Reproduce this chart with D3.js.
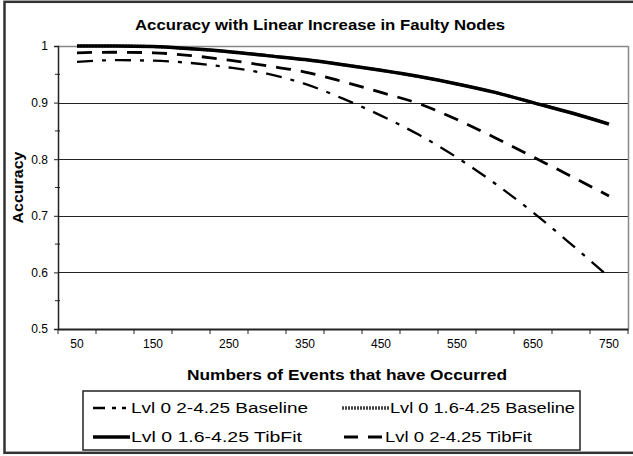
<!DOCTYPE html>
<html><head><meta charset="utf-8">
<script src="https://cdn.jsdelivr.net/npm/d3@7"></script>
<style>body{margin:0;background:#fff}svg{display:block}text{font-family:"Liberation Sans",Arial,sans-serif;fill:#000}</style>
</head><body><svg id="c" width="633" height="456"></svg>
<script>
const categories = [50,100,150,200,250,300,350,400,450,500,550,600,650,700,750];
const baseline2 = [0.972,0.975,0.974,0.970,0.962,0.951,0.933,0.907,0.877,0.843,0.803,0.757,0.706,0.650,0.592];
const baseline16 = [1.000,1.000,0.999,0.995,0.990,0.983,0.976,0.967,0.957,0.946,0.933,0.918,0.900,0.882,0.862];
const tibfit16 = [1.000,1.000,0.999,0.995,0.990,0.983,0.976,0.967,0.957,0.946,0.933,0.918,0.900,0.882,0.862];
const tibfit2 = [0.988,0.989,0.988,0.983,0.975,0.965,0.954,0.937,0.918,0.898,0.870,0.838,0.804,0.770,0.735];
const yTicks = [0.5,0.6,0.7,0.8,0.9,1];
const yMinor = [0.55,0.65,0.75,0.85,0.95];
const seriesNames = ["Lvl 0 2-4.25 Baseline","Lvl 0 1.6-4.25 Baseline","Lvl 0 1.6-4.25 TibFit","Lvl 0 2-4.25 TibFit"];

const svg = d3.select("#c");
const L=58,R=628,T=46,B=329;
const x = d3.scaleBand().domain(categories).range([L,R]);
const y = d3.scaleLinear().domain([0.5,1]).range([B,T]);
const snap = v => Math.round(v)+0.5;

// outer frame
svg.append("rect").attr("x",4.5).attr("y",1.8).attr("width",640).attr("height",451).attr("fill","none").attr("stroke","#333").attr("stroke-width",2.5);

// title
svg.append("text").attr("x",320).attr("y",30).attr("text-anchor","middle").attr("font-size",15).attr("font-weight","bold")
  .attr("textLength",370).attr("lengthAdjust","spacingAndGlyphs").text("Accuracy with Linear Increase in Faulty Nodes");

// gridlines
svg.append("g").selectAll("line").data(yTicks.filter(d=>d>0.5&&d<1)).join("line")
  .attr("x1",L).attr("x2",R).attr("y1",d=>snap(y(d))).attr("y2",d=>snap(y(d))).attr("stroke","#222").attr("stroke-width",1);
// plot border top/right
svg.append("line").attr("x1",L).attr("x2",R).attr("y1",snap(y(1))).attr("y2",snap(y(1))).attr("stroke","#888").attr("stroke-width",1.5);
svg.append("line").attr("x1",R+0.5).attr("x2",R+0.5).attr("y1",T).attr("y2",B).attr("stroke","#888").attr("stroke-width",1.5);

// y axis
const ya = svg.append("g").attr("transform",`translate(${L},0)`)
  .call(d3.axisLeft(y).tickValues(yTicks).tickSize(4).tickPadding(6).tickFormat(d=>d===1?"1":d3.format(".1f")(d)));
ya.select(".domain").attr("stroke","#222").attr("stroke-width",1.5);
ya.selectAll(".tick line").attr("stroke","#222");
ya.selectAll(".tick text").attr("font-size",12).attr("font-family","Liberation Sans, Arial, sans-serif").attr("fill","#000");
svg.append("g").selectAll("line").data(yMinor).join("line")
  .attr("x1",L-3).attr("x2",L+2).attr("y1",d=>y(d)).attr("y2",d=>y(d)).attr("stroke","#222");

// x axis
const xa = svg.append("g").attr("transform",`translate(0,${B})`)
  .call(d3.axisBottom(x).tickSize(0).tickPadding(10).tickFormat((d,i)=>i%2===0?d:""));
xa.select(".domain").attr("stroke","#222").attr("stroke-width",1.8);
xa.selectAll(".tick text").attr("font-size",12).attr("font-family","Liberation Sans, Arial, sans-serif").attr("fill","#000");
svg.append("g").selectAll("line").data(categories.map(c=>x(c)).concat([R])).join("line")
  .attr("x1",d=>d).attr("x2",d=>d).attr("y1",B).attr("y2",B+5).attr("stroke","#222");

// axis titles
svg.append("text").attr("transform",`translate(23,${(T+B)/2}) rotate(-90)`).attr("text-anchor","middle")
  .attr("font-size",14).attr("font-weight","bold").attr("textLength",72).attr("lengthAdjust","spacingAndGlyphs").text("Accuracy");
svg.append("text").attr("x",347).attr("y",380).attr("text-anchor","middle").attr("font-size",14).attr("font-weight","bold")
  .attr("textLength",320).attr("lengthAdjust","spacingAndGlyphs").text("Numbers of Events that have Occurred");

// lines
const line = vals => d3.line().x((d,i)=>x(categories[i])+x.bandwidth()/2).y(d=>y(d)).curve(d3.curveMonotoneX)(vals);
const styles = [
  {vals:baseline16, stroke:"#444", w:3, dash:"2,1"},
  {vals:tibfit16, stroke:"#000", w:3.5, dash:null},
  {vals:tibfit2, stroke:"#000", w:2.8, dash:"15,10"},
  {vals:baseline2, stroke:"#000", w:2.3, dash:"16,9,4,9"}
];
styles.forEach(s=>{
  svg.append("path").attr("d",line(s.vals)).attr("fill","none").attr("stroke",s.stroke)
    .attr("stroke-width",s.w).attr("stroke-dasharray",s.dash);
});

// legend
const lg = svg.append("g");
lg.append("rect").attr("x",83).attr("y",391).attr("width",497).attr("height",59).attr("fill","#fff").attr("stroke","#222").attr("stroke-width",1.5);
const items = [
  {name:seriesNames[0], x1:93, x2:130, ty:413, stroke:"#000", w:2.5, dash:"12,7,4,6,4,6", tl:177},
  {name:seriesNames[1], x1:342, x2:389, ty:413, stroke:"#444", w:3.5, dash:"2,1", tl:185},
  {name:seriesNames[2], x1:93, x2:130, ty:442, stroke:"#000", w:3.5, dash:null, tl:171},
  {name:seriesNames[3], x1:344, x2:384, ty:442, stroke:"#000", w:3, dash:"14,10", tl:147}
];
items.forEach(it=>{
  lg.append("line").attr("x1",it.x1).attr("x2",it.x2).attr("y1",it.ty-5).attr("y2",it.ty-5)
    .attr("stroke",it.stroke).attr("stroke-width",it.w).attr("stroke-dasharray",it.dash);
  lg.append("text").attr("x",it.x2+1).attr("y",it.ty).attr("font-size",14)
    .attr("textLength",it.tl).attr("lengthAdjust","spacingAndGlyphs").text(it.name);
});
</script></body></html>
